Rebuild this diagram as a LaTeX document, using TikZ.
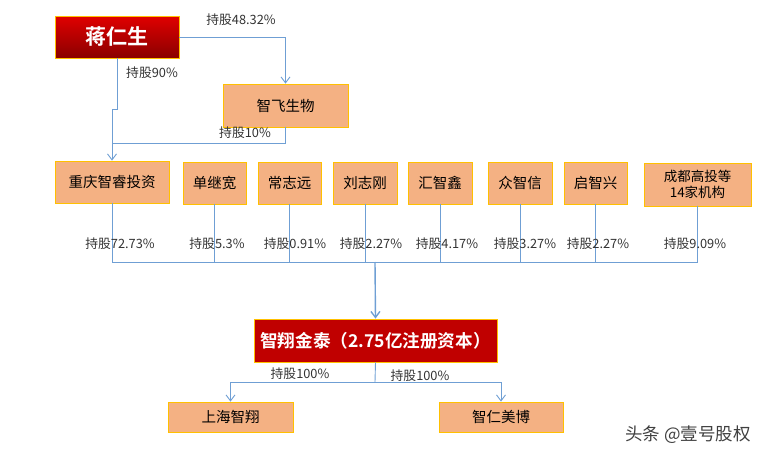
\documentclass[tikz,border=0pt]{standalone}
\usepackage{fontspec}
\setmainfont{Noto Sans CJK SC}
\newfontfamily\cjkb{Noto Sans CJK SC Bold}
\usetikzlibrary{arrows.meta}
\definecolor{boxfill}{HTML}{F4B183}
\definecolor{boxedge}{HTML}{FFC000}
\definecolor{linec}{HTML}{6F9FD4}
\definecolor{redtop}{HTML}{E00000}
\definecolor{redbot}{HTML}{8A0000}
\definecolor{redbox}{HTML}{C00000}
\begin{document}
\begin{tikzpicture}[x=1pt,y=-1pt,
  orgbox/.style={draw=boxedge,fill=boxfill,line width=0.8pt,inner sep=0pt,font=\fontsize{14.5}{16}\selectfont,align=center},
  conn/.style={draw=linec,line width=0.9pt},
  arr/.style={conn,-{Straight Barb[length=6pt,width=9pt]}},
  lbl/.style={font=\fontsize{12.8}{14}\selectfont,text=black!80,inner sep=0pt}]
\useasboundingbox (0,0) rectangle (769,458);
% top person
\node[draw=boxedge,line width=0.8pt,top color=redtop,bottom color=redbot,minimum width=124pt,minimum height=42pt,inner sep=0pt,text=white,font=\cjkb\fontsize{21}{24}\selectfont] (jrs) at (117,37) {蒋仁生};
\node[orgbox,minimum width=125pt,minimum height=43pt] (zf) at (285.5,105.5) {智飞生物};
% row of shareholders
\node[orgbox,minimum width=114pt,minimum height=42pt] (cq) at (112,182) {重庆智睿投资};
\node[orgbox,minimum width=63pt,minimum height=42pt] (s1) at (214.5,183) {单继宽};
\node[orgbox,minimum width=63pt,minimum height=42pt] (s2) at (289.5,183) {常志远};
\node[orgbox,minimum width=64pt,minimum height=42pt] (s3) at (365,183) {刘志刚};
\node[orgbox,minimum width=64pt,minimum height=42pt] (s4) at (440,183) {汇智鑫};
\node[orgbox,minimum width=64pt,minimum height=42pt] (s5) at (520,183) {众智信};
\node[orgbox,minimum width=63pt,minimum height=42pt] (s6) at (595.5,183) {启智兴};
\node[orgbox,minimum width=107pt,minimum height=43pt,font=\fontsize{13.5}{16}\selectfont] (s7) at (697.5,184.5) {成都高投等\\14家机构};
% main company
\node[draw=boxedge,fill=redbox,line width=0.8pt,minimum width=243pt,minimum height=43pt,inner sep=0pt,text=white,font=\cjkb\fontsize{17.6}{20}\selectfont] (jt) at (375.5,340.5) {智翔金泰（2.75亿注册资本）};
\node[orgbox,minimum width=125pt,minimum height=30pt] (sh) at (230.5,417) {上海智翔};
\node[orgbox,minimum width=124pt,minimum height=30pt] (zr) at (501,417) {智仁美博};
% coordinates
\coordinate (j1) at (117,109);
\coordinate (j2) at (112,109);
\coordinate (m1) at (112,143);
\coordinate (bus) at (375,262);
\coordinate (b2) at (375,382);
% connectors top
\draw[arr] (jrs.east) -| (zf.north);
\draw[conn] (jrs.south -| j1) -- (j1) -- (j2) -- (m1);
\draw[conn] (zf.south) |- (m1);
\draw[arr] (m1) -- (cq.north);
% shareholder bus
\foreach \n in {cq,s1,s2,s3,s4,s5,s6,s7} {\draw[conn] (\n.south) -- (\n.south |- bus);}
\draw[conn] (cq.south |- bus) -- (s7.south |- bus);
\draw[arr,line width=1.4pt] (bus) -- (jt.north);
% subsidiaries
\draw[conn] (jt.south) -- (b2);
\draw[arr] (b2) -| (sh.north);
\draw[arr] (b2) -| (zr.north);
% labels
\node[lbl] (l1) at (241,20) {持股48.32\%};
\node[lbl] (l2) at (152,73) {持股90\%};
\node[lbl] (l3) at (245,133) {持股10\%};
\node[lbl] (a1) at (120,244) {持股72.73\%};
\node[lbl] (a2) at (217,244) {持股5.3\%};
\node[lbl] (a3) at (295,244) {持股0.91\%};
\node[lbl] (a4) at (371,244) {持股2.27\%};
\node[lbl] (a5) at (447,244) {持股4.17\%};
\node[lbl] (a6) at (525,244) {持股3.27\%};
\node[lbl] (a7) at (598,244) {持股2.27\%};
\node[lbl] (a8) at (695,244) {持股9.09\%};
\node[lbl] (c1) at (300,374) {持股100\%};
\node[lbl] (c2) at (420,376) {持股100\%};
% watermark
\node[font=\fontsize{17.5}{20}\selectfont,text=black!75,inner sep=0pt] (wm) at (688,435) {头条 @壹号股权};
\end{tikzpicture}
\end{document}
